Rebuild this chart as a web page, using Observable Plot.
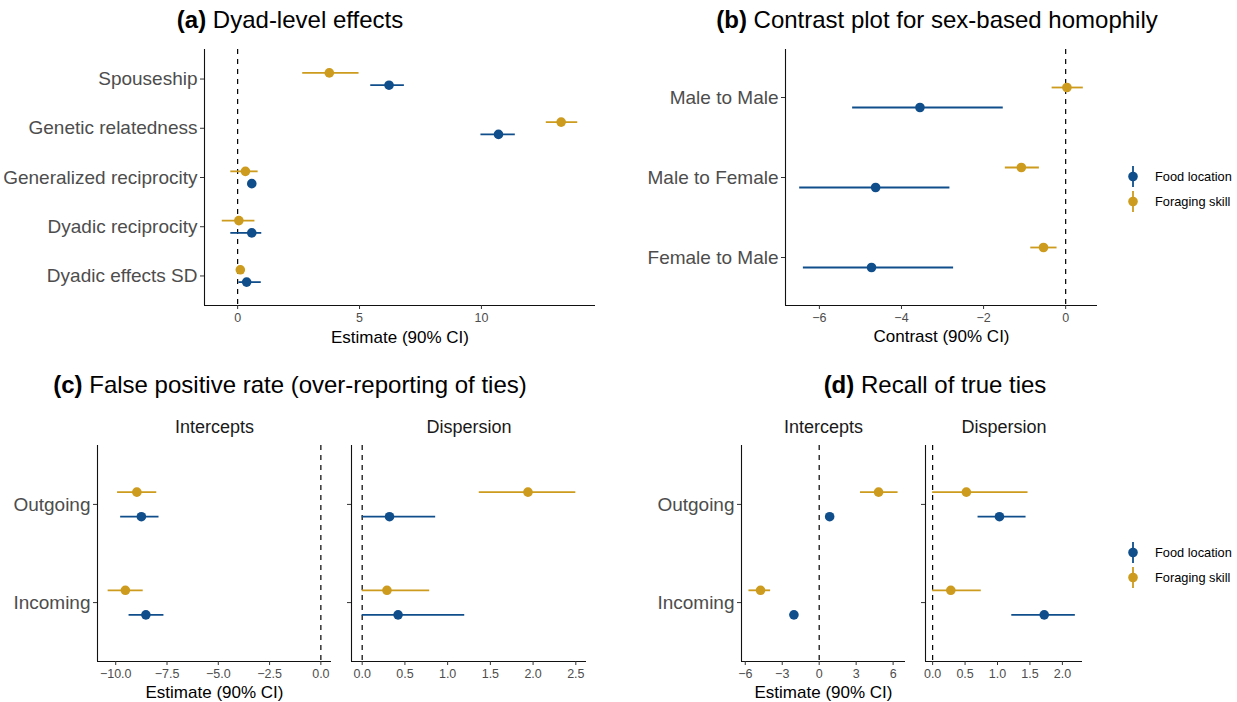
<!DOCTYPE html>
<html><head><meta charset="utf-8">
<script src="https://cdn.jsdelivr.net/npm/d3@7"></script>
<script src="https://cdn.jsdelivr.net/npm/@observablehq/plot@0.6"></script>
<style>
body{margin:0;background:#fff;font-family:"Liberation Sans",Arial,sans-serif;}
#root{position:relative;width:1237px;height:702px;overflow:hidden;background:#fff}
.pane{position:absolute}
.pane svg{overflow:visible;display:block}
.title{position:absolute;font-size:24px;white-space:nowrap;transform:translate(-50%,-50%);color:#000;line-height:1}
.legend{position:absolute;font-size:12.8px;color:#000}
.legend .row{display:flex;align-items:center;height:25px}
.legend svg{margin-right:14px;display:block}
</style></head><body><div id="root"></div>
<script>
const seriesNames = ["Food location", "Foraging skill"];
const seriesColors = ["#104E8B", "#CD9B1D"];

// (a) Dyad-level effects
const catsA = ["Spouseship", "Genetic relatedness", "Generalized reciprocity", "Dyadic reciprocity", "Dyadic effects SD"];
const foodA_est = [6.21, 10.70, 0.58, 0.58, 0.37];
const foodA_lo  = [5.46, 9.98, 0.45, -0.28, 0.05];
const foodA_hi  = [6.84, 11.39, 0.72, 0.99, 0.97];
const skillA_est = [3.76, 13.27, 0.32, 0.05, 0.11];
const skillA_lo  = [2.67, 12.66, -0.28, -0.63, 0.02];
const skillA_hi  = [4.98, 13.95, 0.84, 0.71, 0.20];
const ticksA = [0, 5, 10];

// (b) Contrast plot for sex-based homophily
const catsB = ["Male to Male", "Male to Female", "Female to Male"];
const foodB_est = [-3.55, -4.63, -4.73];
const foodB_lo  = [-5.19, -6.48, -6.39];
const foodB_hi  = [-1.52, -2.82, -2.73];
const skillB_est = [0.03, -1.08, -0.54];
const skillB_lo  = [-0.33, -1.47, -0.85];
const skillB_hi  = [0.43, -0.64, -0.21];
const ticksB = [-6, -4, -2, 0];

// (c) False positive rate
const catsCD = ["Outgoing", "Incoming"];
const foodC1_est = [-8.75, -8.53], foodC1_lo = [-9.76, -9.35], foodC1_hi = [-7.89, -7.65];
const skillC1_est = [-8.97, -9.53], skillC1_lo = [-9.91, -10.37], skillC1_hi = [-8.00, -8.66];
const foodC2_est = [0.32, 0.42], foodC2_lo = [0.0, 0.0], foodC2_hi = [0.86, 1.20];
const skillC2_est = [1.94, 0.29], skillC2_lo = [1.37, 0.0], skillC2_hi = [2.50, 0.79];
const ticksC1 = [-10, -7.5, -5, -2.5, 0];
const ticksC2 = [0, 0.5, 1, 1.5, 2, 2.5];

// (d) Recall of true ties
const foodD1_est = [0.85, -2.05], foodD1_lo = [0.60, -2.35], foodD1_hi = [1.10, -1.75];
const skillD1_est = [4.82, -4.76], skillD1_lo = [3.35, -5.70], skillD1_hi = [6.40, -3.94];
const foodD2_est = [1.03, 1.72], foodD2_lo = [0.70, 1.22], foodD2_hi = [1.44, 2.20];
const skillD2_est = [0.52, 0.28], skillD2_lo = [0.0, 0.0], skillD2_hi = [1.47, 0.75];
const ticksD1 = [-6, -3, 0, 3, 6];
const ticksD2 = [0, 0.5, 1, 1.5, 2];

const panelLabels = ["Intercepts", "Dispersion"];
const xTitleA = "Estimate (90% CI)";
const xTitleB = "Contrast (90% CI)";

const root = document.getElementById("root");

function forest(o) {
  const n = o.cats.length;
  const rows = [];
  o.cats.forEach((c, i) => {
    rows.push({y: i - 0.125, s: seriesNames[1], est: o.skill[0][i], lo: o.skill[1][i], hi: o.skill[2][i]});
    rows.push({y: i + 0.125, s: seriesNames[0], est: o.food[0][i], lo: o.food[1][i], hi: o.food[2][i]});
  });
  const vals = rows.flatMap(r => [r.lo, r.hi, r.est]).concat([0]);
  const mn = d3.min(vals), mx = d3.max(vals), pad = (mx - mn) * 0.05;
  const xd = [mn - pad, mx + pad];
  const yd = [n - 0.4, -0.6];
  const marks = [
    Plot.ruleX([0], {stroke: "#000", strokeWidth: 1.2, strokeDasharray: "5,5"}),
    Plot.ruleY(rows, {y: "y", x1: "lo", x2: "hi", stroke: "s", strokeWidth: 1.8}),
    Plot.dot(rows, {x: "est", y: "y", fill: "s", r: 4.8}),
    Plot.ruleX([xd[0]], {stroke: "#111", strokeWidth: 1.1}),
    Plot.ruleY([yd[0]], {stroke: "#111", strokeWidth: 1.1}),
    Plot.axisX({ticks: o.ticks, tickFormat: o.fmt, tickSize: 4, tickPadding: 4, fontSize: 12.5, fill: "#4D4D4D", stroke: "#333", label: null}),
    Plot.axisY({ticks: d3.range(n), tickFormat: o.yLabels ? (i => o.cats[i]) : (() => ""), tickSize: 4, tickPadding: 3, fontSize: 19, fill: "#4D4D4D", stroke: "#333", label: null})
  ];
  if (o.xLabel) marks.push(Plot.text([o.xLabel], {frameAnchor: "bottom", lineAnchor: "middle", dy: o.xdy, fontSize: 17, fill: "#000"}));
  if (o.strip) marks.push(Plot.text([o.strip], {frameAnchor: "top", lineAnchor: "middle", dy: -18, fontSize: 18, fill: "#1A1A1A"}));
  const svg = Plot.plot({
    width: o.w, height: o.h,
    marginLeft: o.ml, marginRight: o.mr, marginTop: o.mt, marginBottom: o.mb,
    x: {domain: xd}, y: {domain: yd},
    color: {domain: seriesNames, range: seriesColors},
    style: {fontFamily: "Liberation Sans, Arial, sans-serif", background: "transparent", overflow: "visible"},
    marks
  });
  const div = document.createElement("div");
  div.className = "pane";
  div.style.left = o.left + "px";
  div.style.top = o.top + "px";
  div.appendChild(svg);
  root.appendChild(div);
}

function title(x, y, bold, rest) {
  const d = document.createElement("div");
  d.className = "title";
  d.style.left = x + "px"; d.style.top = y + "px";
  const b = document.createElement("b"); b.textContent = bold;
  d.appendChild(b);
  d.appendChild(document.createTextNode(" " + rest));
  root.appendChild(d);
}

function legend(x, y) {
  const d = document.createElement("div");
  d.className = "legend";
  d.style.left = x + "px"; d.style.top = y + "px";
  seriesNames.forEach((name, k) => {
    const row = document.createElement("div");
    row.className = "row";
    const ns = "http://www.w3.org/2000/svg";
    const s = document.createElementNS(ns, "svg");
    s.setAttribute("width", 16); s.setAttribute("height", 25);
    const l = document.createElementNS(ns, "line");
    l.setAttribute("x1", 8); l.setAttribute("x2", 8); l.setAttribute("y1", 2); l.setAttribute("y2", 23);
    l.setAttribute("stroke", seriesColors[k]); l.setAttribute("stroke-width", 1.8);
    const c = document.createElementNS(ns, "circle");
    c.setAttribute("cx", 8); c.setAttribute("cy", 12.5); c.setAttribute("r", 4.8);
    c.setAttribute("fill", seriesColors[k]);
    s.appendChild(l); s.appendChild(c);
    const t = document.createElement("span"); t.textContent = name;
    row.appendChild(s); row.appendChild(t);
    d.appendChild(row);
  });
  root.appendChild(d);
}

// (a)
forest({cats: catsA, food: [foodA_est, foodA_lo, foodA_hi], skill: [skillA_est, skillA_lo, skillA_hi],
  ticks: ticksA, yLabels: true, xLabel: xTitleA, xdy: 32,
  left: 0, top: 40, w: 610, h: 310, ml: 204, mr: 15, mt: 9, mb: 45});
// (b)
forest({cats: catsB, food: [foodB_est, foodB_lo, foodB_hi], skill: [skillB_est, skillB_lo, skillB_hi],
  ticks: ticksB, yLabels: true, xLabel: xTitleB, xdy: 31,
  left: 620, top: 40, w: 490, h: 310, ml: 165, mr: 13, mt: 9, mb: 45});
// (c)
forest({cats: catsCD, food: [foodC1_est, foodC1_lo, foodC1_hi], skill: [skillC1_est, skillC1_lo, skillC1_hi],
  ticks: ticksC1, fmt: d3.format(".1f"), yLabels: true, xLabel: xTitleA, xdy: 31, strip: panelLabels[0],
  left: 0, top: 400, w: 340, h: 302, ml: 97, mr: 9, mt: 45, mb: 41});
forest({cats: catsCD, food: [foodC2_est, foodC2_lo, foodC2_hi], skill: [skillC2_est, skillC2_lo, skillC2_hi],
  ticks: ticksC2, fmt: d3.format(".1f"), yLabels: false, strip: panelLabels[1],
  left: 340, top: 400, w: 260, h: 302, ml: 11, mr: 14, mt: 45, mb: 41});
// (d)
forest({cats: catsCD, food: [foodD1_est, foodD1_lo, foodD1_hi], skill: [skillD1_est, skillD1_lo, skillD1_hi],
  ticks: ticksD1, yLabels: true, xLabel: xTitleA, xdy: 31, strip: panelLabels[0],
  left: 600, top: 400, w: 315, h: 302, ml: 141, mr: 10, mt: 45, mb: 41});
forest({cats: catsCD, food: [foodD2_est, foodD2_lo, foodD2_hi], skill: [skillD2_est, skillD2_lo, skillD2_hi],
  ticks: ticksD2, fmt: d3.format(".1f"), yLabels: false, strip: panelLabels[1],
  left: 915, top: 400, w: 180, h: 302, ml: 10, mr: 13, mt: 45, mb: 41});

title(290, 20, "(a)", "Dyad-level effects");
title(937, 20, "(b)", "Contrast plot for sex-based homophily");
title(290, 385, "(c)", "False positive rate (over-reporting of ties)");
title(935, 385, "(d)", "Recall of true ties");

legend(1125, 163.5);
legend(1125, 539.5);
</script>
</body></html>
